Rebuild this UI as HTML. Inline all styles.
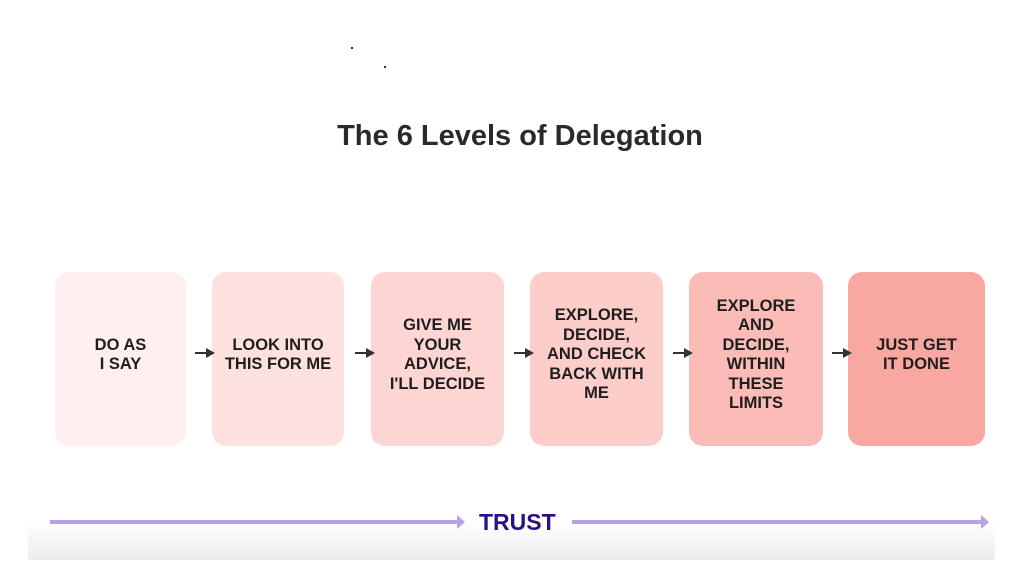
<!DOCTYPE html>
<html><head><meta charset="utf-8"><style>
body{margin:0;width:1024px;height:576px;background:#fff;position:relative;overflow:hidden;font-family:"Liberation Sans",sans-serif}
.t{position:absolute;left:0;width:1040px;top:120px;text-align:center;font-size:29px;font-weight:bold;color:#2a2a2a}
.b{position:absolute;top:272px;height:174px;border-radius:14px;display:flex;align-items:center;justify-content:center;text-align:center;font-weight:bold;font-size:16.5px;line-height:19.5px;color:#1e1e1e;box-sizing:border-box;padding-bottom:8px}
.a{position:absolute;top:352px;height:2px;background:#333;width:12px}
.a:after{content:"";position:absolute;right:-8px;top:-4px;border-left:9px solid #333;border-top:5px solid transparent;border-bottom:5px solid transparent}
.band{position:absolute;left:28px;width:967px;top:522px;height:38px;background:linear-gradient(#fff,#ececec)}
.l{position:absolute;top:520px;height:4px;background:#b9a1e6}
.l:after{content:"";position:absolute;right:-7px;top:-5px;border-left:8px solid #b9a1e6;border-top:7px solid transparent;border-bottom:7px solid transparent}
</style></head><body>
<div style="position:absolute;left:351px;top:47px;width:2px;height:2px;background:#333"></div>
<div style="position:absolute;left:384px;top:66px;width:2px;height:2px;background:#333"></div>
<div class="t">The 6 Levels of Delegation</div>
<div class="b" style="left:55px;width:131px;background:#fdf0ee">DO AS<br>I SAY</div>
<div class="b" style="left:212px;width:132px;background:#fde1de">LOOK INTO<br>THIS FOR ME</div>
<div class="b" style="left:371px;width:133px;background:#fdd6d4">GIVE ME<br>YOUR<br>ADVICE,<br>I'LL DECIDE</div>
<div class="b" style="left:530px;width:133px;background:#fccdc9">EXPLORE,<br>DECIDE,<br>AND CHECK<br>BACK WITH<br>ME</div>
<div class="b" style="left:689px;width:134px;background:#fbbcb8">EXPLORE<br>AND<br>DECIDE,<br>WITHIN<br>THESE<br>LIMITS</div>
<div class="b" style="left:848px;width:137px;background:#f9a8a1">JUST GET<br>IT DONE</div>
<div class="a" style="left:195px"></div>
<div class="a" style="left:355px"></div>
<div class="a" style="left:514px"></div>
<div class="a" style="left:673px"></div>
<div class="a" style="left:832px"></div>
<div class="band"></div>
<div class="l" style="left:50px;width:408px"></div>
<div class="l" style="left:572px;width:410px"></div>
<div style="position:absolute;left:479px;top:509px;font-size:23px;font-weight:bold;color:#2a0f8a">TRUST</div>
</body></html>
